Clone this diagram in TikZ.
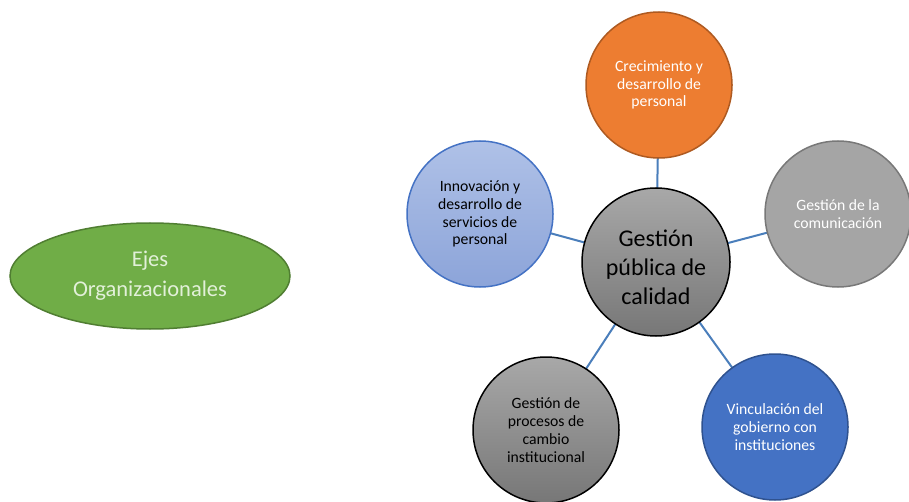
\documentclass[tikz,border=0pt]{standalone}
\usepackage{fontspec}
\setmainfont{Carlito}
\usetikzlibrary{shapes.geometric,backgrounds}
\definecolor{linkblue}{HTML}{4A7EBB}
\definecolor{orfill}{HTML}{ED7D31}
\definecolor{ordraw}{HTML}{AE5A21}
\definecolor{grfill}{HTML}{A5A5A5}
\definecolor{grdraw}{HTML}{787878}
\definecolor{bdfill}{HTML}{4472C4}
\definecolor{bddraw}{HTML}{2F528F}
\definecolor{lbtop}{HTML}{AFC1E7}
\definecolor{lbbot}{HTML}{8CA4D9}
\definecolor{lbdraw}{HTML}{4472C4}
\definecolor{cgtop}{HTML}{A8A8A8}
\definecolor{cgbot}{HTML}{777777}
\definecolor{gnfill}{HTML}{70AD47}
\definecolor{gndraw}{HTML}{507E32}
\definecolor{gntext}{HTML}{E2F0D9}
\tikzset{
  sat/.style={circle, minimum size=146pt, inner sep=0pt, line width=1.5pt, align=center, font=\fontsize{15.7}{17.8}\selectfont},
  link/.style={draw=linkblue, line width=2pt}
}
\begin{document}
\begin{tikzpicture}[x=1pt,y=1pt]
\useasboundingbox (0,0) rectangle (909,501);
\node[ellipse, minimum width=280pt, minimum height=106pt, fill=gnfill, draw=gndraw, line width=1.5pt, text=gntext, align=center, font=\fontsize{22.5}{30}\selectfont] (ejes) at (150,225) {Ejes\\Organizacionales};
\node[sat, minimum size=148pt, draw=black, top color=cgtop, bottom color=cgbot, font=\fontsize{24}{29}\selectfont] (centro) at (656,239) {\raisebox{-8pt}[\height][\depth]{\begin{tabular}{@{}c@{}}Gestión\\pública de\\calidad\end{tabular}}};
\node[sat, fill=orfill, draw=ordraw, text=white] (crec) at (659,416) {Crecimiento y\\desarrollo de\\personal};
\node[sat, draw=lbdraw, top color=lbtop, bottom color=lbbot] (innov) at (480,287) {Innovación y\\desarrollo de\\servicios de\\personal};
\node[sat, fill=grfill, draw=grdraw, text=white] (comun) at (838,287) {Gestión de la\\comunicación};
\node[sat, draw=black, top color=cgtop, bottom color=cgbot] (proc) at (546,71) {Gestión de\\procesos de\\cambio\\institucional};
\node[sat, fill=bdfill, draw=bddraw, text=white] (vinc) at (775,74) {Vinculación del\\gobierno con\\instituciones};
\begin{scope}[on background layer]
\draw[link] (centro.center) -- (crec.center);
\draw[link] (centro.center) -- (innov.center);
\draw[link] (centro.center) -- (comun.center);
\draw[link] (centro.center) -- (proc.center);
\draw[link] (centro.center) -- (vinc.center);
\end{scope}
\end{tikzpicture}
\end{document}
